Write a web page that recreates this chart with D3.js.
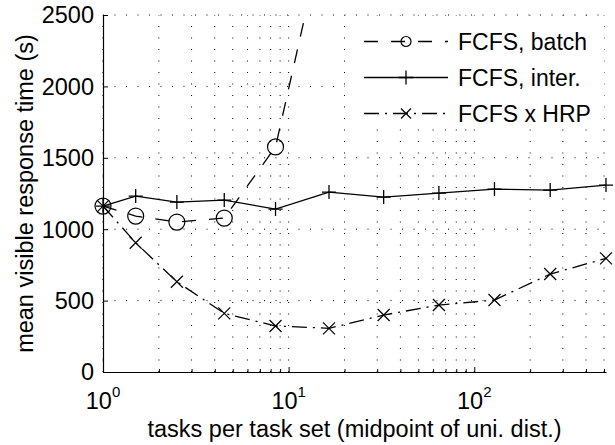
<!DOCTYPE html>
<html>
<head>
<meta charset="utf-8">
<script src="https://cdn.jsdelivr.net/npm/d3@7"></script>
<style>
  body { margin: 0; background: #fff; }
  text { font-family: "Liberation Sans", Arial, sans-serif; fill: #000; }
</style>
</head>
<body>
<div id="chart"></div>
<script>
// data
var taskCounts = [1, 1.5, 2.5, 4.5, 8.5, 16.5, 32.5, 64.5, 128.5, 256.5, 512.5];
var batchTimes = [1162, 1092, 1050, 1078, 1576, 3240];
var interTimes = [1162, 1232, 1190, 1204, 1141, 1260, 1225, 1253, 1281, 1274, 1309];
var hrpTimes = [1162, 905, 632, 411, 322, 306, 399, 469, 504, 686, 796];

var seriesNames = ["FCFS, batch", "FCFS, inter.", "FCFS x HRP"];
var xMajorTicks = [1, 10, 100];
var yTicks = [0, 500, 1000, 1500, 2000, 2500];

var svgWidth = 615;
var svgHeight = 445;

var margin = {
    top: 15,
    right: 9,
    bottom: 73,
    left: 103
};

var width = svgWidth - margin.left - margin.right;
var height = svgHeight - margin.top - margin.bottom;

var svg = d3.select("#chart")
    .append("svg")
    .attr("width", svgWidth)
    .attr("height", svgHeight);

var chartGroup = svg.append("g")
    .attr("transform", `translate(${margin.left}, ${margin.top})`);

var xScale = d3.scaleLog()
    .domain([1, 512.5])
    .range([0, width]);

var yScale = d3.scaleLinear()
    .domain([0, 2500])
    .range([height, 0]);

// minor log positions 2..9, 20..90, 200..500
var xMinorTicks = [];
[1, 10, 100].forEach(function (dec) {
    for (var k = 2; k <= 9; k++) {
        if (dec * k <= 512.5) xMinorTicks.push(dec * k);
    }
});
var xAllTicks = xMajorTicks.concat(xMinorTicks);

// dotted grid
var gridGroup = chartGroup.append("g")
    .attr("stroke", "#000")
    .attr("stroke-width", 1)
    .attr("stroke-dasharray", "1,10.5");

gridGroup.selectAll(".vgrid")
    .data(xAllTicks)
    .enter()
    .append("line")
    .attr("x1", d => xScale(d))
    .attr("x2", d => xScale(d))
    .attr("y1", height)
    .attr("y2", 0);

gridGroup.selectAll(".hgrid")
    .data(yTicks.slice(1))
    .enter()
    .append("line")
    .attr("x1", 0)
    .attr("x2", width)
    .attr("y1", d => yScale(d))
    .attr("y2", d => yScale(d));

// axes
var bottomAxis = d3.axisBottom(xScale)
    .tickValues(xAllTicks)
    .tickSizeInner(-5)
    .tickSizeOuter(0)
    .tickFormat("");

var leftAxis = d3.axisLeft(yScale)
    .tickValues(yTicks)
    .tickSizeInner(-5)
    .tickSizeOuter(0)
    .tickFormat("");

var xAxis = chartGroup.append("g")
    .attr("transform", `translate(0, ${height})`)
    .call(bottomAxis);

// minor ticks are shorter
xAxis.selectAll(".tick line")
    .attr("y2", d => xMajorTicks.indexOf(d) >= 0 ? -5 : -3);

var yAxis = chartGroup.append("g")
    .call(leftAxis);

chartGroup.selectAll(".domain")
    .attr("stroke", "#000")
    .attr("stroke-width", 1.2);
chartGroup.selectAll(".tick line")
    .attr("stroke", "#000");

// tick labels
chartGroup.selectAll(".ylabel")
    .data(yTicks)
    .enter()
    .append("text")
    .attr("x", -9)
    .attr("y", d => yScale(d))
    .attr("dy", "0.36em")
    .attr("text-anchor", "end")
    .style("font-size", "23.5px")
    .text(d => d);

var xLabels = chartGroup.selectAll(".xlabel")
    .data(xMajorTicks)
    .enter()
    .append("text")
    .attr("x", d => xScale(d))
    .attr("y", height + 37)
    .attr("text-anchor", "middle")
    .style("font-size", "23.5px");
xLabels.append("tspan").text("10");
xLabels.append("tspan")
    .attr("dy", -12)
    .style("font-size", "15px")
    .text(d => Math.round(Math.log10(d)));

// axis titles
chartGroup.append("text")
    .attr("x", width / 2)
    .attr("y", height + 65)
    .attr("text-anchor", "middle")
    .style("font-size", "23.5px")
    .text("tasks per task set (midpoint of uni. dist.)");

chartGroup.append("text")
    .attr("transform", "rotate(-90)")
    .attr("x", -height / 2)
    .attr("y", 33 - margin.left)
    .attr("text-anchor", "middle")
    .style("font-size", "23.5px")
    .text("mean visible response time (s)");

// clip so the batch curve leaves through the top
svg.append("defs").append("clipPath")
    .attr("id", "plotClip")
    .append("rect")
    .attr("x", -20)
    .attr("y", 0)
    .attr("width", width + 40)
    .attr("height", height + 20);

var series = [
    { name: seriesNames[0], values: batchTimes, dash: "14,13", marker: "circle" },
    { name: seriesNames[1], values: interTimes, dash: null, marker: "plus" },
    { name: seriesNames[2], values: hrpTimes, dash: "15,6,2,6", marker: "cross" }
];

function drawMarker(g, type, x, y, s) {
    if (type === "circle") {
        g.append("circle").attr("cx", x).attr("cy", y).attr("r", s)
            .attr("fill", "none").attr("stroke", "#000").attr("stroke-width", 1.2);
    }
    else if (type === "plus") {
        g.append("path")
            .attr("d", `M${x - s},${y}H${x + s}M${x},${y - s}V${y + s}`)
            .attr("stroke", "#000").attr("stroke-width", 1.3);
    }
    else {
        g.append("path")
            .attr("d", `M${x - s},${y - s}L${x + s},${y + s}M${x - s},${y + s}L${x + s},${y - s}`)
            .attr("stroke", "#000").attr("stroke-width", 1.2);
    }
}

var markerSize = { circle: 8, plus: 7, cross: 6 };
var legendSize = { circle: 5, plus: 7, cross: 5 };

var line = d3.line()
    .x((d, i) => xScale(taskCounts[i]))
    .y(d => yScale(d));

var plotGroup = chartGroup.append("g").attr("clip-path", "url(#plotClip)");

series.forEach(function (s) {
    plotGroup.append("path")
        .datum(s.values)
        .attr("d", line)
        .attr("fill", "none")
        .attr("stroke", "#000")
        .attr("stroke-width", 1.3)
        .attr("stroke-dasharray", s.dash);
    s.values.forEach(function (v, i) {
        drawMarker(plotGroup, s.marker, xScale(taskCounts[i]), yScale(v), markerSize[s.marker]);
    });
});

// legend
var legend = svg.append("g");
legend.append("rect")
    .attr("x", 345)
    .attr("y", 16)
    .attr("width", 259)
    .attr("height", 112)
    .attr("fill", "#fff");

series.forEach(function (s, i) {
    var cy = 41.5 + i * 36;
    legend.append("line")
        .attr("x1", 364)
        .attr("x2", 448)
        .attr("y1", cy)
        .attr("y2", cy)
        .attr("stroke", "#000")
        .attr("stroke-width", 1.3)
        .attr("stroke-dasharray", s.dash);
    drawMarker(legend, s.marker, 406, cy, legendSize[s.marker]);
    legend.append("text")
        .attr("x", 458)
        .attr("y", cy)
        .attr("dy", "0.35em")
        .style("font-size", "23px")
        .text(s.name);
});
</script>
</body>
</html>
